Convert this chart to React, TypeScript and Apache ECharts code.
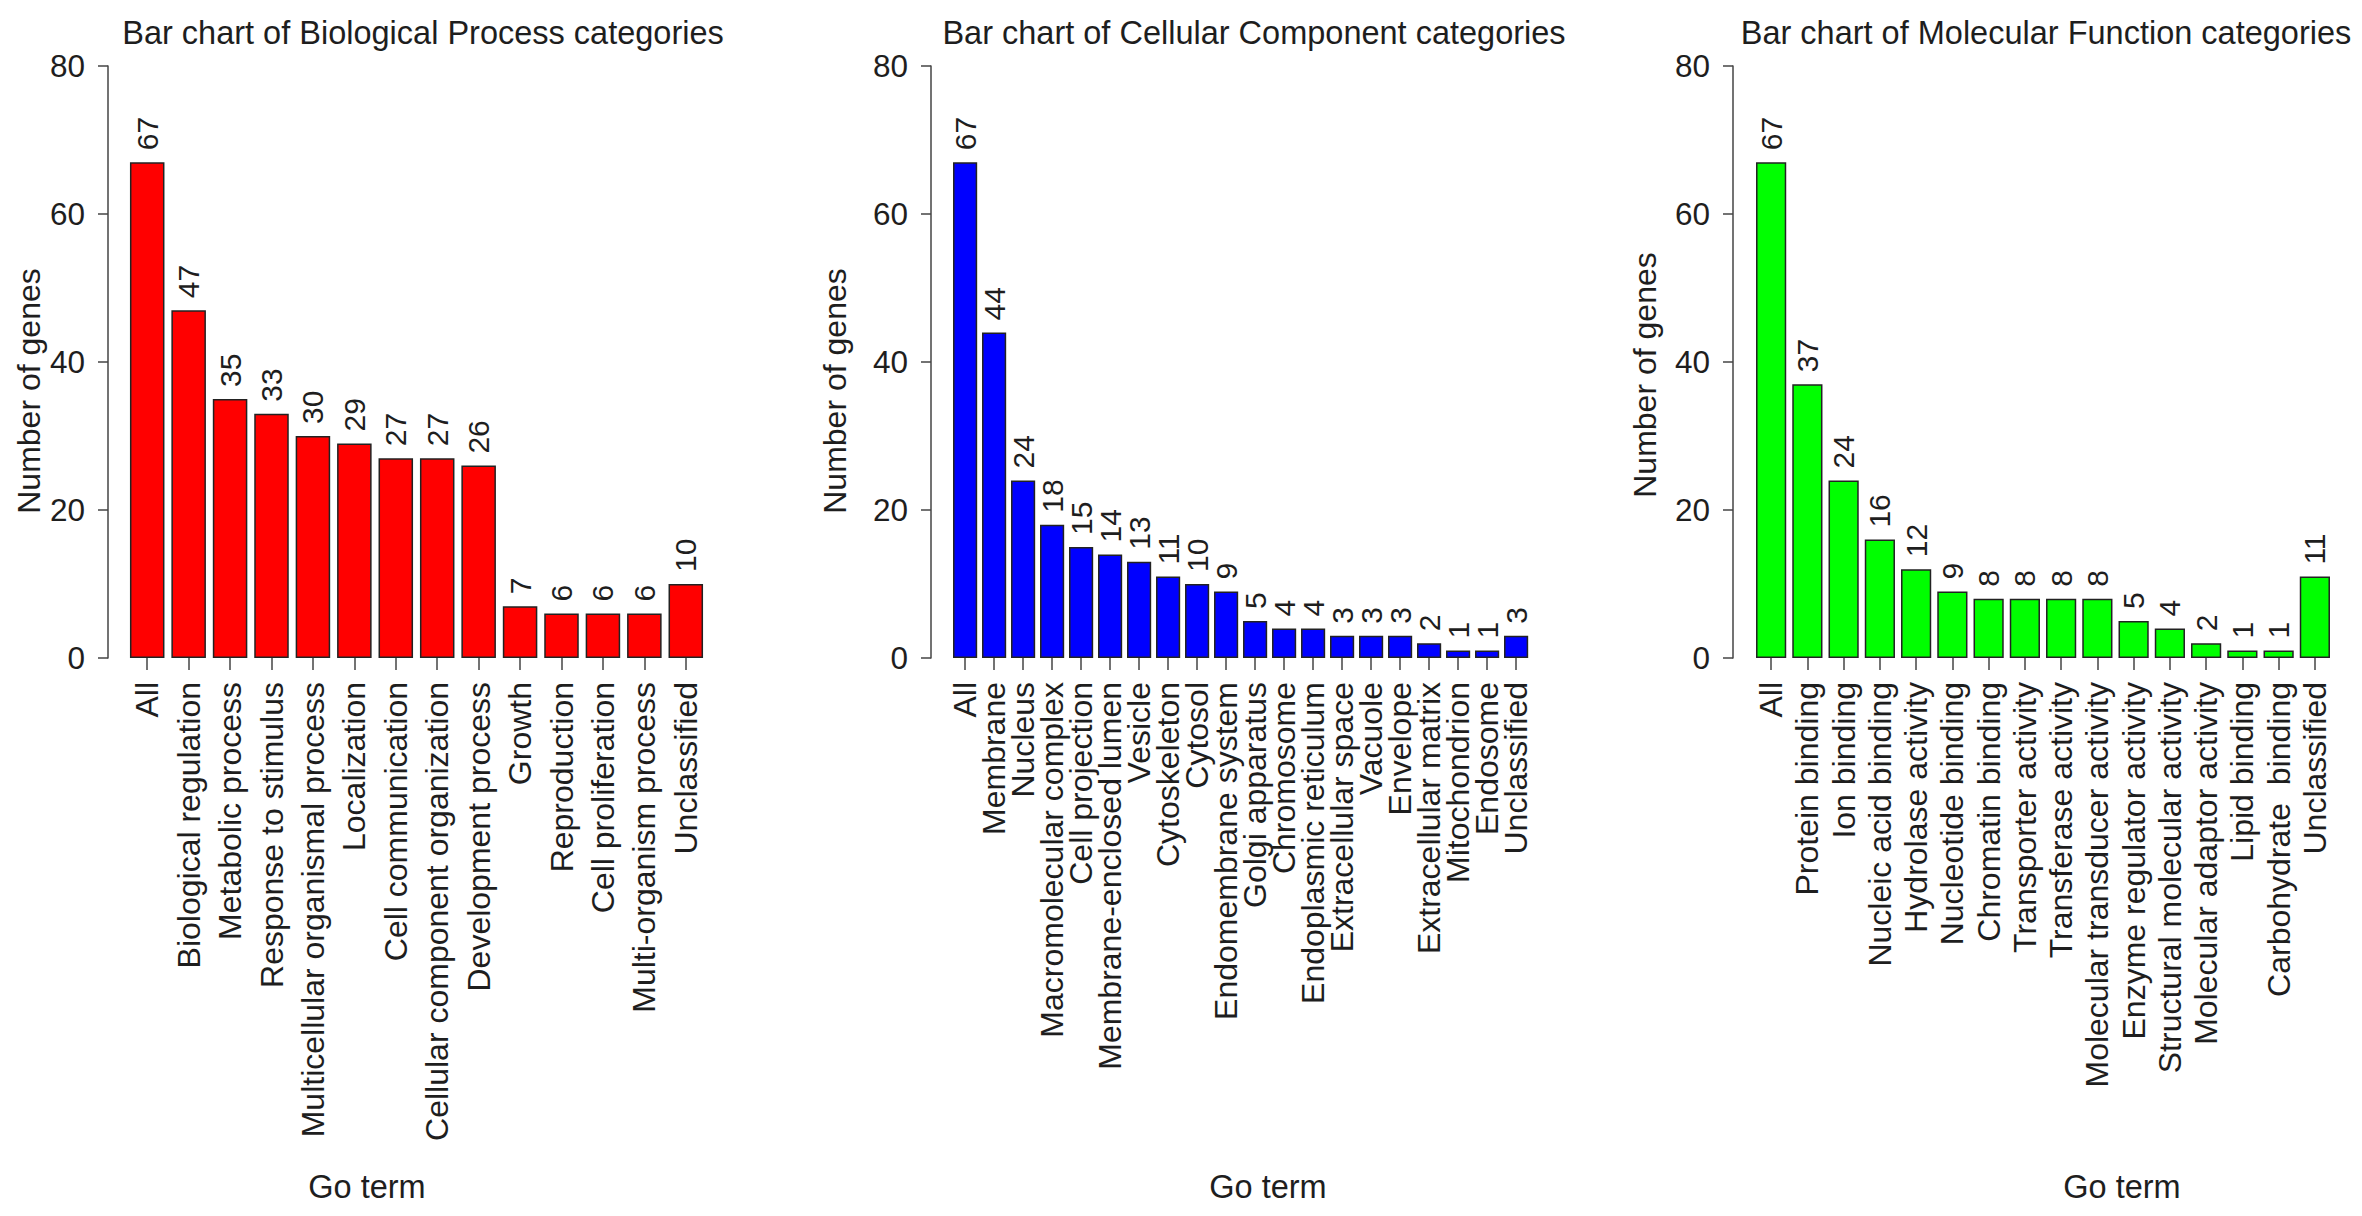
import React, { useEffect, useRef } from 'react';
import * as echarts from 'echarts';

const bpCategories = [
  'All', 'Biological regulation', 'Metabolic process', 'Response to stimulus',
  'Multicellular organismal process', 'Localization', 'Cell communication',
  'Cellular component organization', 'Development process', 'Growth',
  'Reproduction', 'Cell proliferation', 'Multi-organism process', 'Unclassified',
];
const bpValues = [67, 47, 35, 33, 30, 29, 27, 27, 26, 7, 6, 6, 6, 10];

const ccCategories = [
  'All', 'Membrane', 'Nucleus', 'Macromolecular complex', 'Cell projection',
  'Membrane-enclosed lumen', 'Vesicle', 'Cytoskeleton', 'Cytosol',
  'Endomembrane system', 'Golgi apparatus', 'Chromosome', 'Endoplasmic reticulum',
  'Extracellular space', 'Vacuole', 'Envelope', 'Extracellular matrix',
  'Mitochondrion', 'Endosome', 'Unclassified',
];
const ccValues = [67, 44, 24, 18, 15, 14, 13, 11, 10, 9, 5, 4, 4, 3, 3, 3, 2, 1, 1, 3];

const mfCategories = [
  'All', 'Protein binding', 'Ion binding', 'Nucleic acid binding', 'Hydrolase activity',
  'Nucleotide binding', 'Chromatin binding', 'Transporter activity', 'Transferase activity',
  'Molecular transducer activity', 'Enzyme regulator activity',
  'Structural molecular activity', 'Molecular adaptor activity', 'Lipid binding',
  'Carbohydrate  binding', 'Unclassified',
];
const mfValues = [67, 37, 24, 16, 12, 9, 8, 8, 8, 8, 5, 4, 2, 1, 1, 11];

const titles = [
  'Bar chart of Biological Process categories',
  'Bar chart of Cellular Component categories',
  'Bar chart of Molecular Function categories',
];
const yMin = 0;
const yMax = 80;
const yStep = 20;

const FONT = '"Liberation Sans", Arial, Helvetica, sans-serif';
const TEXT = '#1e1e1e';
const AXIS = '#444';

// layout of each panel (pixels)
const panels = [
  { left: 126.5, width: 580, axisX: 108, titleX: 418, xNameX: 367, yNameX: 29, yNameY: 391, color: '#ff0000' },
  { left: 950.6, width: 580, axisX: 931, titleX: 1249, xNameX: 1268, yNameX: 835, yNameY: 391, color: '#0000ff' },
  { left: 1753, width: 580, axisX: 1733, titleX: 2041, xNameX: 2122, yNameX: 1645, yNameY: 375, color: '#00ff00' },
];
const gridTop = 66;
const gridHeight = 592;

const App: React.FC = () => {
  const chartRef = useRef<HTMLDivElement>(null);

  useEffect(() => {
    if (!chartRef.current) return;
    const chart = echarts.init(chartRef.current, undefined, { renderer: 'svg' });

    const cats = [bpCategories, ccCategories, mfCategories];
    const vals = [bpValues, ccValues, mfValues];

    const option = {
      animation: false,
      backgroundColor: '#ffffff',
      textStyle: { fontFamily: FONT, color: TEXT },
      title: panels.map((p, i) => ({
        text: titles[i],
        left: p.titleX,
        top: 11,
        textAlign: 'center',
        textStyle: { fontFamily: FONT, fontSize: 32.5, fontWeight: 'normal', color: TEXT },
      })),
      grid: panels.map((p) => ({
        left: p.left,
        width: p.width,
        top: gridTop,
        height: gridHeight,
        containLabel: false,
      })),
      xAxis: panels.map((p, i) => ({
        type: 'category',
        gridIndex: i,
        data: cats[i],
        axisLine: { show: false },
        axisTick: { show: true, alignWithLabel: true, length: 12, lineStyle: { color: AXIS, width: 1.5 } },
        axisLabel: {
          interval: 0,
          rotate: 90,
          margin: 24,
          fontSize: 32,
          fontFamily: FONT,
          color: TEXT,
        },
      })),
      yAxis: panels.map((p, i) => ({
        type: 'value',
        gridIndex: i,
        min: yMin,
        max: yMax,
        interval: yStep,
        offset: p.left - p.axisX,
        axisLine: { show: true, lineStyle: { color: AXIS, width: 1.5 } },
        axisTick: { show: true, length: 10, lineStyle: { color: AXIS, width: 1.5 } },
        axisLabel: { margin: 23, fontSize: 31.5, fontFamily: FONT, color: TEXT },
        splitLine: { show: false },
      })),
      series: panels.map((p, i) => ({
        type: 'bar',
        xAxisIndex: i,
        yAxisIndex: i,
        data: vals[i],
        barCategoryGap: '16.67%',
        itemStyle: { color: p.color, borderColor: '#222', borderWidth: 1.5 },
        label: {
          show: true,
          position: 'top',
          rotate: 90,
          align: 'left',
          verticalAlign: 'middle',
          distance: 12,
          fontSize: 30,
          fontFamily: FONT,
          color: TEXT,
        },
      })),
      graphic: panels.flatMap((p) => [
        {
          type: 'text',
          x: p.xNameX,
          y: 1187,
          style: {
            text: 'Go term',
            fontSize: 32.5,
            fontFamily: FONT,
            fill: TEXT,
            textAlign: 'center',
            textVerticalAlign: 'middle',
          },
        },
        {
          type: 'text',
          x: p.yNameX,
          y: p.yNameY,
          rotation: Math.PI / 2,
          style: {
            text: 'Number of genes',
            fontSize: 32,
            fontFamily: FONT,
            fill: TEXT,
            textAlign: 'center',
            textVerticalAlign: 'middle',
          },
        },
      ]),
    };

    chart.setOption(option);

    return () => {
      chart.dispose();
    };
  }, []);

  return (
    <div
      ref={chartRef}
      style={{ position: 'absolute', left: 0, top: 0, width: '2362px', height: '1216px' }}
    />
  );
};

export default App;
